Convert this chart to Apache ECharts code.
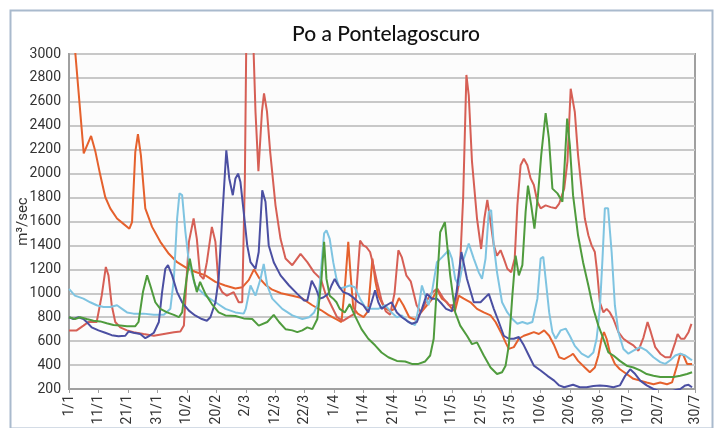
<!DOCTYPE html>
<html lang="it">

<head>
    <meta charset="UTF-8">
    <title>Po a Pontelagoscuro</title>
    <script src="https://cdnjs.cloudflare.com/ajax/libs/echarts/6.0.0/echarts.min.js"></script>
    <style>
        body { margin: 0; background: #fff; }
        #main { width: 715px; height: 428px; }
    </style>
</head>

<body>
    <div id="main"></div>
    <script>
        // etichette asse x (un tick ogni 10 giorni dal 1/1)
        const tickLabels = ['1/1', '11/1', '21/1', '31/1', '10/2', '20/2', '2/3', '12/3', '22/3', '1/4', '11/4',
            '21/4', '1/5', '11/5', '21/5', '31/5', '10/6', '20/6', '30/6', '10/7', '20/7', '30/7'];

        // portate m3/sec, coppie [giorno dal 1/1, valore]
        const serieArancio = [[0,3050],[2,3050],[5,2170],[7.5,2315],[9,2180],[10.6,1990],[12.3,1805],[14,1710],[16.3,1625],[18.5,1580],[20.5,1540],[21.4,1595],[22.5,2180],[23.4,2330],[24.4,2155],[25.9,1710],[28.2,1555],[31,1430],[33.9,1330],[36.7,1260],[40,1210],[42.8,1180],[46.3,1150],[49.7,1095],[53,1065],[56.5,1040],[58.8,1050],[61,1110],[62.8,1200],[64.5,1130],[66.7,1070],[69,1030],[72,1000],[75.8,980],[79,960],[82.6,900],[85.5,860],[88,820],[91,780],[92.5,760],[93.8,1100],[94.8,1430],[95.6,1150],[96.5,880],[98,830],[100,800],[101.5,850],[103,1290],[104,1100],[105,980],[107,880],[109,850],[110.5,870],[112,960],[113.5,900],[115.5,800],[117.5,780],[119.5,840],[121.5,900],[123.5,960],[125,1030],[126.6,955],[128.3,925],[130,870],[131,850],[132.3,980],[134,955],[136.3,925],[138.5,870],[140.8,840],[143.1,815],[144.8,760],[146.6,675],[148.2,590],[149.3,535],[151,550],[152.7,620],[154.4,645],[156.1,660],[157.8,675],[159.5,660],[161.3,690],[163,645],[164.7,565],[166.4,465],[168.1,450],[170.3,480],[171.1,495],[172.8,435],[175.1,380],[176.8,340],[178.5,380],[179.7,480],[180.8,620],[181.6,675],[182.5,620],[183.6,505],[185.3,410],[187,365],[189.3,325],[191.6,285],[193.9,270],[196.1,255],[198.4,240],[200.7,255],[203,240],[204.7,255],[206.4,395],[207.5,495],[208.6,480],[209.8,410],[211.5,410]];

        const serieRossa = [[0,690],[2.6,690],[4.9,730],[6.6,760],[9.4,760],[11.1,980],[12.5,1220],[13.4,1150],[14.5,900],[15.7,760],[17.4,715],[19.7,690],[21.9,675],[25.3,660],[28.8,645],[32.2,660],[35.6,675],[37.8,680],[39,730],[39.9,1120],[40.7,1430],[42.3,1625],[43.4,1455],[44.5,1150],[45.7,1120],[46.8,1260],[48.5,1555],[49.7,1430],[50.8,1065],[52,1010],[53.6,980],[55.9,1010],[57.6,925],[58.8,925],[59.7,1960],[60.2,3150],[62.5,3150],[63.3,2520],[64.3,2020],[65.5,2520],[66.2,2670],[67.2,2520],[68.3,2180],[70.1,1735],[71.8,1455],[73.5,1290],[75.8,1235],[78.6,1330],[80.9,1260],[83.2,1175],[85.5,1120],[87,1000],[89,900],[91,800],[93,770],[95,800],[97,830],[97.8,1100],[98.8,1440],[99.9,1400],[101,1385],[102.2,1345],[103.3,1235],[104.5,1100],[106,950],[107.5,850],[109,820],[110.5,1000],[111.8,1360],[113,1300],[114.5,1150],[116,1100],[118,900],[119.5,840],[121,920],[123,1000],[125,1040],[127,960],[129,900],[131,900],[132.5,1100],[133.8,1800],[134.9,2825],[135.7,2655],[136.8,2100],[138.5,1625],[139.9,1370],[141,1625],[142,1780],[143.1,1595],[144.2,1400],[145.3,1315],[146.5,1360],[147.6,1290],[148.8,1205],[150.1,1175],[151.3,1290],[152.2,1735],[153.3,2070],[154.4,2125],[155.6,2070],[156.7,1960],[157.8,1905],[159,1765],[160.1,1710],[161.8,1735],[163.5,1720],[165.2,1710],[166.4,1750],[168.1,1875],[169.2,2100],[170.3,2710],[171.7,2515],[172.8,2155],[174,1875],[175.1,1625],[176.3,1485],[177.4,1400],[178.5,1345],[179.3,1175],[180.2,925],[181.4,840],[182.5,870],[183.6,840],[184.8,785],[186.5,675],[188.2,620],[189.9,590],[191.6,565],[193.3,520],[195,630],[196.4,760],[197.5,675],[199,550],[200.7,495],[202.4,465],[204.1,465],[205.8,590],[206.6,660],[207.7,620],[208.9,620],[210.3,675],[211.3,745]];

        const serieAzzurra = [[0,1037],[2,980],[4.9,955],[7.2,925],[9.4,900],[11.7,885],[14,885],[16.3,900],[18,870],[19.7,840],[21.9,830],[25.3,830],[28.8,820],[32.2,820],[34.4,870],[35.6,1120],[36.7,1625],[37.5,1835],[38.4,1820],[39.5,1515],[40.7,1260],[42.8,1065],[46.3,980],[49.7,925],[53.1,870],[56.5,840],[59.3,830],[60,870],[61.6,1065],[63.3,980],[65,1120],[66.1,1245],[67.3,1065],[69,955],[72.4,870],[75.8,815],[79.2,785],[81.5,800],[83.2,840],[84.3,900],[85.1,1065],[86.6,1500],[87.4,1525],[88.5,1455],[89.7,1260],[90.8,1120],[91.9,1040],[93.6,1050],[95.3,1065],[97,1050],[98.8,955],[100.5,885],[102.7,870],[105,870],[107.3,900],[109.5,840],[111.3,800],[113,815],[115.2,760],[117.5,735],[118.6,870],[119.8,1065],[120.9,980],[122,900],[123.2,1010],[124.9,1260],[126.6,1300],[128.9,1360],[130,1290],[131.1,1120],[132.3,1065],[134,1290],[135.7,1415],[137.4,1290],[139.1,1175],[140.2,1120],[141.4,1290],[142.5,1680],[143.3,1695],[144.2,1400],[145.3,1175],[147,925],[148.8,840],[150.5,785],[152.2,745],[153.9,760],[155.6,745],[157.3,760],[159,955],[160.1,1290],[161,1305],[161.8,1120],[163,840],[164.1,675],[165.2,620],[166.9,690],[168.6,705],[170,645],[171.7,560],[174,495],[176.3,465],[178,505],[179.1,620],[180.2,870],[181.1,1290],[181.9,1710],[183,1710],[184.2,1345],[185.3,900],[186.5,675],[188.2,535],[189.9,495],[191.6,520],[193.9,550],[196.1,520],[198.4,465],[200.7,425],[202.4,410],[204.1,440],[205.8,480],[207.5,495],[209.2,480],[210.9,450],[211.5,440]];

        const serieBlu = [[0,800],[1.5,785],[3.2,800],[4.9,785],[6,760],[7.7,715],[10,690],[12.3,670],[14.5,650],[16.8,640],[19.1,645],[20.2,680],[21.9,670],[24.2,660],[25.9,625],[27,640],[28.8,670],[30.5,760],[31.6,1010],[32.7,1205],[33.6,1235],[35,1150],[36.7,1010],[38.4,925],[40.7,855],[42.8,815],[45.1,785],[46.8,770],[48,800],[49.7,925],[50.8,1120],[52,1625],[53.4,2195],[54.4,1960],[55.6,1820],[56.5,1960],[57.4,2000],[58.2,1930],[59.3,1680],[60.5,1400],[61.6,1260],[63.3,1205],[64.4,1345],[65.6,1860],[66.7,1765],[67.8,1400],[69.5,1260],[71.8,1150],[74.7,1065],[77.5,995],[79.8,940],[80.9,940],[82.4,1105],[83.8,1040],[85.1,955],[86.3,965],[88,995],[89.1,1065],[90.2,1120],[91.4,1065],[93.1,1010],[94.8,995],[96.5,965],[98.2,925],[99.9,900],[101.6,840],[102.7,925],[103.9,1025],[105,925],[106.1,870],[107.8,900],[109.5,925],[111.3,840],[113,800],[114.7,770],[116.4,745],[118.1,760],[119.8,870],[121.5,995],[123.2,955],[124.9,955],[126.6,910],[128,870],[130,850],[131.5,1000],[133.2,1345],[135.1,1120],[137.4,925],[139.7,925],[142.5,995],[144.2,870],[145.9,760],[147.6,645],[149.3,620],[151,620],[152.7,635],[154.4,565],[156.1,480],[157.8,395],[160.1,355],[162.4,310],[164.7,270],[166.4,230],[168.1,215],[171.1,235],[173.4,215],[175.7,215],[178,225],[180.2,230],[182.5,225],[184.8,215],[187,230],[188.8,310],[190.5,365],[192.2,325],[193.9,270],[196.1,230],[198.4,200],[200,185],[205,185],[207.5,200],[209.2,230],[210.3,235],[211.5,215]];

        const serieVerde = [[0,800],[2,785],[3.8,800],[6,785],[8.3,770],[10.6,765],[12.8,750],[15.1,735],[17.4,730],[19.7,725],[22.5,725],[23.6,760],[25.1,1010],[26.5,1150],[27.6,1065],[29.3,925],[31,870],[33.3,840],[35.6,820],[37.3,800],[38.4,840],[39.9,1120],[41,1290],[42.3,1120],[43.4,1010],[44.5,1095],[46.3,995],[48.5,910],[50.8,840],[53.1,815],[56.5,810],[59.3,790],[62.2,785],[64.4,730],[67.3,760],[69.5,820],[71.3,760],[73.5,700],[75.8,690],[77.5,675],[79.2,690],[80.9,715],[82.6,700],[84.3,785],[85.7,1120],[86.6,1430],[87.4,1120],[88.5,980],[89.7,955],[90.8,925],[91.9,870],[93.6,840],[95.3,910],[97,815],[99.3,700],[101.6,620],[103.9,565],[106.1,505],[108.4,465],[111.3,435],[114.1,430],[116.4,410],[118.6,410],[120.9,430],[122.6,480],[123.8,620],[124.9,1065],[126,1510],[127.6,1595],[129.4,1150],[131.1,840],[132.8,730],[135.1,645],[136.8,575],[138.5,590],[140.8,480],[143.1,380],[145.3,325],[147,340],[148.2,395],[149.3,565],[150.5,980],[151.6,1315],[152.7,1150],[153.9,1235],[155,1680],[155.8,1900],[156.9,1735],[158,1540],[159.2,1820],[160.3,2155],[161.8,2505],[162.9,2295],[164.1,1875],[165.8,1835],[167.5,1765],[168.3,2100],[169.1,2460],[170,2240],[171.1,1820],[172.8,1485],[174.5,1260],[176.3,1065],[178,870],[179.7,730],[181.4,620],[183.1,505],[184.8,480],[187,435],[189.3,395],[191.6,380],[193.9,355],[196.1,325],[198.4,310],[200.7,300],[203,300],[205.2,300],[207.5,310],[209.8,325],[211.5,340]];

        const chart = echarts.init(document.getElementById('main'));

        const labelFont = "Roboto, sans-serif";

        function linea(dati, colore) {
            return {
                type: 'line',
                data: dati,
                showSymbol: false,
                clip: true,
                lineStyle: { color: colore, width: 2 },
                itemStyle: { color: colore }
            };
        }

        const option = {
            animation: false,
            backgroundColor: '#fff',
            title: {
                text: 'Po a Pontelagoscuro',
                left: 381,
                top: 19,
                textAlign: 'center',
                textStyle: { fontFamily: 'Lato, sans-serif', fontSize: 21, fontWeight: 500, color: '#111' }
            },
            graphic: [{
                type: 'rect',
                left: 8, top: 8,
                shape: { width: 702, height: 418 },
                style: { fill: 'none', stroke: '#a9bacd', lineWidth: 2 }
            }],
            grid: {
                left: 69, right: 20, top: 54, bottom: 39,
                containLabel: false,
                outerBoundsMode: 'none',
                show: true, borderColor: '#a0a0a0', borderWidth: 2, backgroundColor: '#fcfcfc'
            },
            xAxis: {
                type: 'value',
                min: 0,
                max: 212.5,
                interval: 10,
                splitLine: { show: false },
                axisLine: { lineStyle: { color: '#a0a0a0', width: 2 } },
                axisTick: { show: true, length: 4, lineStyle: { color: '#a0a0a0' } },
                axisLabel: {
                    rotate: 90,
                    margin: 6,
                    showMaxLabel: true,
                    fontFamily: labelFont,
                    fontSize: 14,
                    color: '#333',
                    formatter: v => tickLabels[Math.round(v / 10)] || ''
                }
            },
            yAxis: {
                type: 'value',
                min: 200,
                max: 3000,
                interval: 200,
                name: 'm³/sec',
                nameLocation: 'middle',
                nameRotate: 90,
                nameGap: 38,
                nameMoveOverlap: false,
                nameTextStyle: { fontFamily: labelFont, fontSize: 15, color: '#333' },
                axisLine: { show: true, lineStyle: { color: '#a0a0a0', width: 2 } },
                axisTick: { show: false },
                splitLine: { lineStyle: { color: '#c8c8c8', width: 2 } },
                axisLabel: { fontFamily: labelFont, fontSize: 14, color: '#333', margin: 8, formatter: v => String(v) }
            },
            series: [
                linea(serieArancio, '#e5612d'),
                linea(serieRossa, '#d65f55'),
                linea(serieAzzurra, '#7fc4e1'),
                linea(serieBlu, '#4b4fa2'),
                linea(serieVerde, '#4f9b3d')
            ]
        };

        chart.setOption(option);
    </script>
</body>

</html>
